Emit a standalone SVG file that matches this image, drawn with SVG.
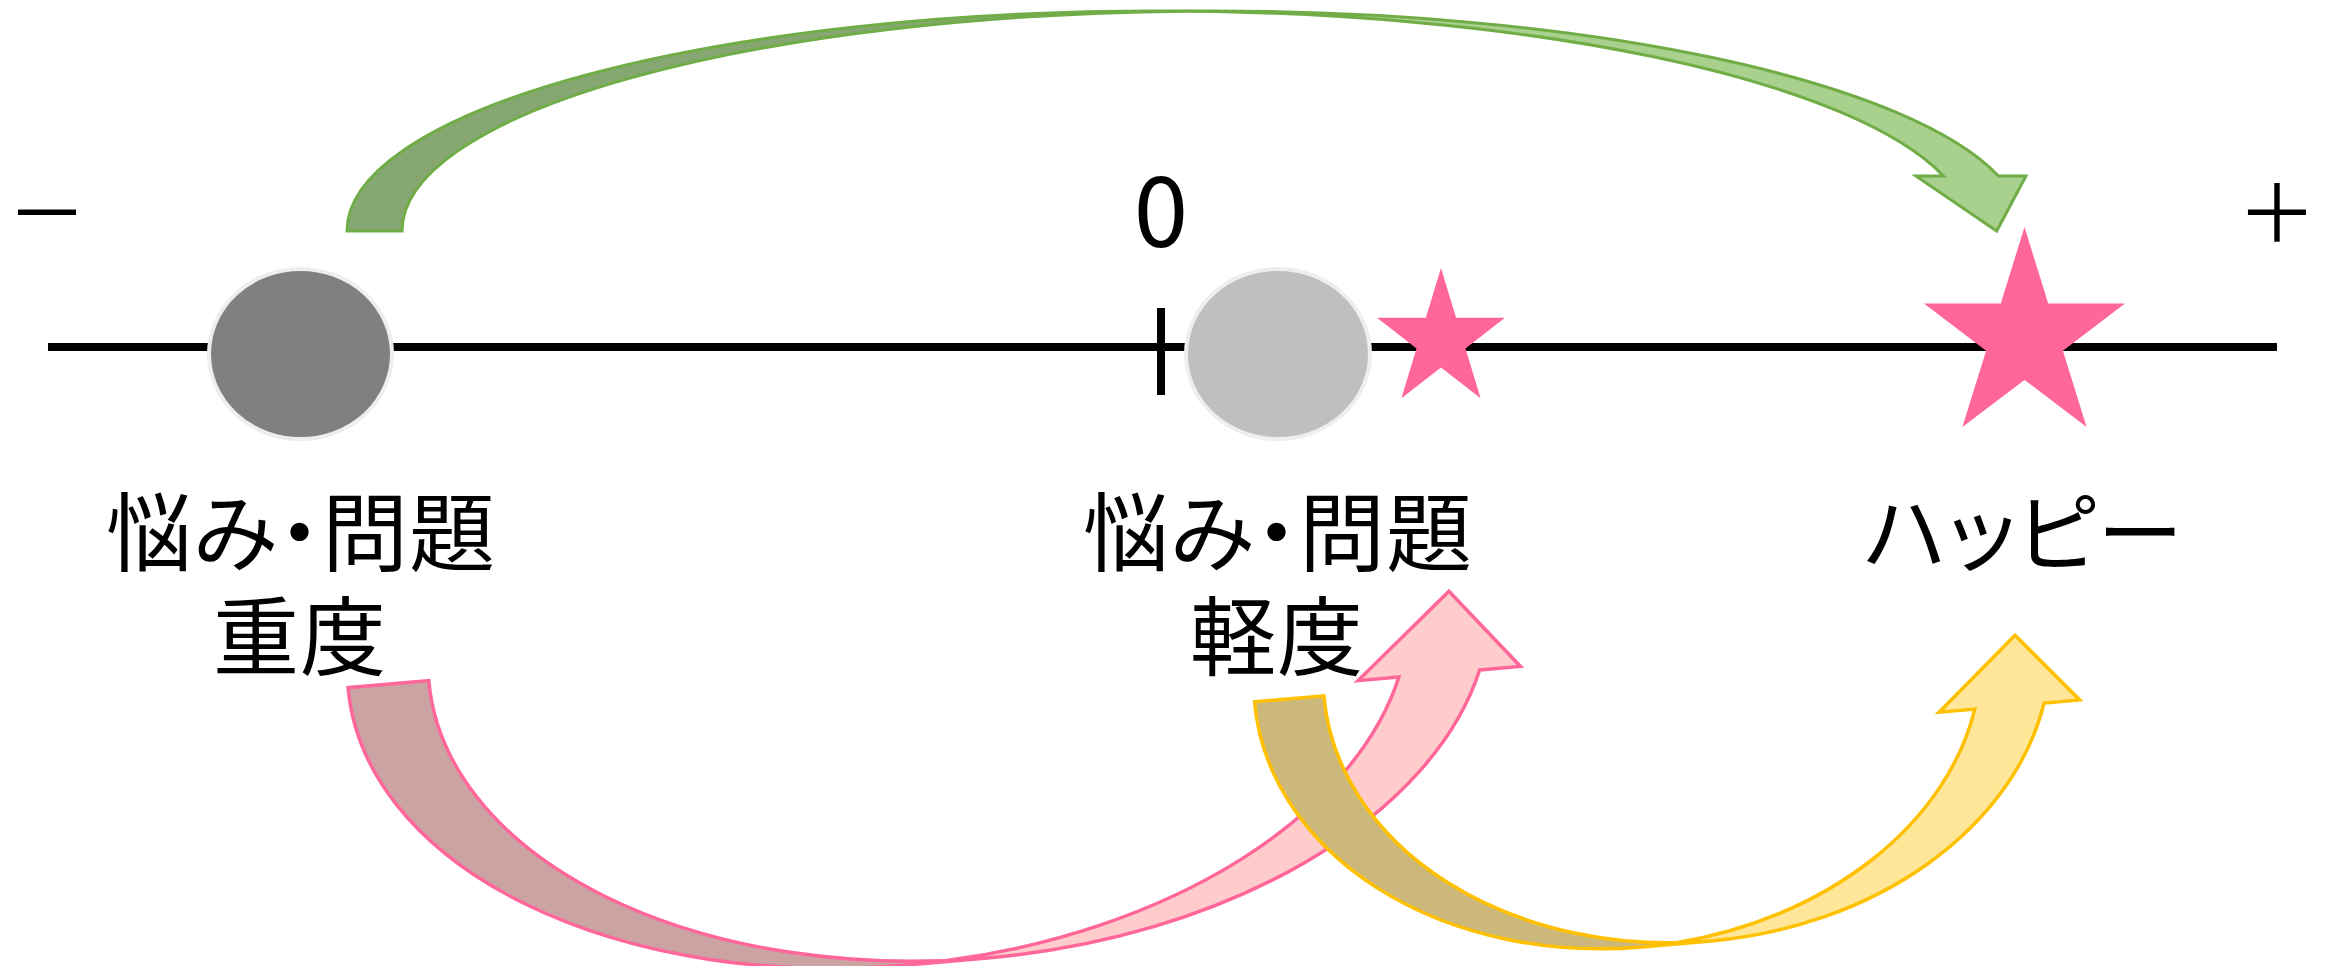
<svg xmlns="http://www.w3.org/2000/svg" width="2328" height="966" viewBox="0 0 2328 966">
<style>
.lbl{font-family:"Noto Sans CJK JP","Noto Sans CJK SC",sans-serif;font-size:86px;letter-spacing:1px;font-feature-settings:"palt";text-anchor:middle;fill:#000}
.sym{font-family:"Noto Sans CJK JP","Noto Sans CJK SC",sans-serif;text-anchor:middle;fill:#000}
.star{fill:#FF6699}
.g-light{fill:#A9D18E}.g-dark{fill:#87A772}.g-line{fill:none;stroke:#70AD47;stroke-width:3;stroke-linejoin:miter}
.p-light{fill:#FFCCCC}.p-dark{fill:#CCA3A3}.p-line{fill:none;stroke:#FF6699;stroke-width:3.5;stroke-linejoin:miter}
.y-light{fill:#FFE699}.y-dark{fill:#CCB87A}.y-line{fill:none;stroke:#FFC000;stroke-width:3.5;stroke-linejoin:miter}
</style>
<rect width="2328" height="966" fill="#fff"/>
<g id="axis">
<rect x="48" y="343" width="2229" height="8" fill="#000"/>
<rect x="1157" y="308" width="8" height="87" fill="#000"/>
<text class="sym" x="47" y="242" font-size="80">－</text>
<text class="sym" x="2277" y="242" font-size="80">＋</text>
<text class="sym" x="1161" y="247" font-size="98">0</text>
</g>
<g id="node-heavy">
<ellipse cx="300.5" cy="354" rx="91.5" ry="85" fill="#808080" stroke="#eeeeee" stroke-width="4"/>
<text class="lbl" x="301" y="565">悩み・問題<tspan x="300" dy="104">重度</tspan></text>
</g>
<g id="node-light">
<ellipse cx="1278" cy="354" rx="92" ry="85" fill="#BFBFBF" stroke="#eeeeee" stroke-width="4"/>
<text class="lbl" x="1278" y="565">悩み・問題<tspan x="1277" dy="104">軽度</tspan></text>
</g>
<g id="star-small">
<polygon class="star" points="1441,268.1 1456.1,317.8 1505,317.8 1465.5,348.5 1480.6,398.2 1441,367.5 1401.4,398.2 1416.5,348.5 1377,317.8 1425.9,317.8"/>
</g>
<g id="node-happy">
<polygon class="star" points="2024.5,227 2048.2,303.4 2125,303.4 2062.9,350.7 2086.6,427.1 2024.5,379.9 1962.4,427.1 1986.1,350.7 1924,303.4 2000.8,303.4"/>
<text class="lbl" x="2024" y="565">ハッピー</text>
</g>
<g id="connectors">
<g id="arrow-green">
<path class="g-light" d="M1996.7,231 L1915.95,176 L1943.45,176 A811.1,220 0 0 0 1158.1,11 L1213.1,11 A811.1,220 0 0 1 1998.45,176 L2025.95,176 Z"/>
<path class="g-dark" d="M1185.6,11.13 A811.1,220 0 0 0 402,231 L347,231 A811.1,220 0 0 1 1185.6,11.13 Z"/>
<path class="g-line" d="M1185.6,11.13 A811.1,220 0 0 0 402,231 L347,231 A811.1,220 0 0 1 1158.1,11 L1213.1,11 A811.1,220 0 0 1 1998.45,176 L2025.95,176 L1996.7,231 L1915.95,176 L1943.45,176 A811.1,220 0 0 0 1158.1,11"/>
</g>
<g id="arrow-pink" transform="rotate(-5) translate(286.8,715.4)">
<path class="p-light" d="M1105.1,0 L1169.8,81 L1128.8,81 A532.3,325 0 0 1 572.8,324.06 A532.3,325 0 0 0 1047.8,81 L1006.8,81 Z"/>
<path class="p-dark" d="M532.3,325 A532.3,325 0 0 1 0,0 L81,0 A532.3,325 0 0 0 613.3,325 Z"/>
<path class="p-line" d="M572.8,324.06 A532.3,325 0 0 0 1047.8,81 L1006.8,81 L1105.1,0 L1169.8,81 L1128.8,81 A532.3,325 0 0 1 613.3,325 L532.3,325 A532.3,325 0 0 1 0,0 L81,0 A532.3,325 0 0 0 613.3,325"/>
</g>
<g id="arrow-yellow" transform="rotate(-5) translate(1188.6,808.5)">
<path class="y-light" d="M763.4,0 L822.15,70 L786.4,70 A364.3,278 0 0 1 399.05,276.73 A364.3,278 0 0 0 716.9,70 L681.15,70 Z"/>
<path class="y-dark" d="M364.3,278 A364.3,278 0 0 1 0,0 L69.5,0 A364.3,278 0 0 0 433.8,278 Z"/>
<path class="y-line" d="M399.05,276.73 A364.3,278 0 0 0 716.9,70 L681.15,70 L763.4,0 L822.15,70 L786.4,70 A364.3,278 0 0 1 433.8,278 L364.3,278 A364.3,278 0 0 1 0,0 L69.5,0 A364.3,278 0 0 0 433.8,278"/>
</g>
</g>
</svg>
